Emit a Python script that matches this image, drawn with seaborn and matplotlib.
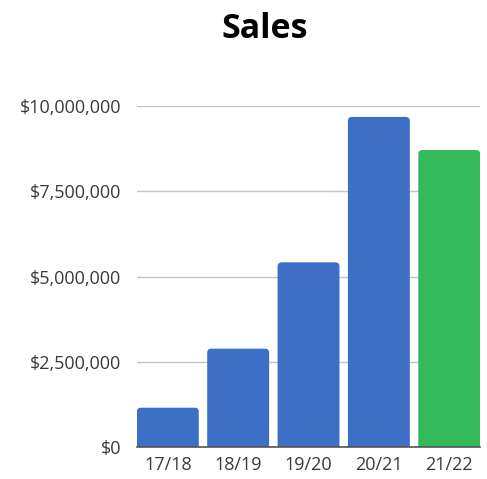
import numpy as np
import pandas as pd
import seaborn as sns
from matplotlib import pyplot as plt
from matplotlib.patches import FancyBboxPatch
from matplotlib.ticker import FuncFormatter

years = ["17/18", "18/19", "19/20", "20/21", "21/22"]
sales = [1160000, 2890000, 5420000, 9680000, 8710000]
colors = ["#3d6fc4", "#3d6fc4", "#3d6fc4", "#3d6fc4", "#33ba5a"]

sns.set_style("white")
plt.rcParams['font.family'] = ['Open Sans', 'DejaVu Sans']

df = pd.DataFrame({"year": years, "sales": sales})

fig = plt.figure(figsize=(4.87, 4.79), dpi=100)
ax = fig.add_axes([0.281, 0.0662, 0.705, 0.7125])

sns.barplot(data=df, x="year", y="sales", hue="year", palette=colors,
            legend=False, width=0.88, saturation=1, ax=ax, zorder=3)

# swap square bars for ones with slightly rounded tops
r = 0.06
aspect = 2.0e6
for p in list(ax.patches):
    x0, y0 = p.get_x(), p.get_y()
    w, h = p.get_width(), p.get_height()
    fb = FancyBboxPatch((x0, y0 - r * aspect), w, h + r * aspect,
                        boxstyle=f"round,pad=0,rounding_size={r}",
                        mutation_aspect=aspect, facecolor=p.get_facecolor(),
                        edgecolor="none", zorder=3)
    p.remove()
    ax.add_patch(fb)

ax.set_ylim(0, 10000000)
ax.set_xlim(-0.44, 4.44)
ax.set_yticks([0, 2500000, 5000000, 7500000, 10000000])
ax.yaxis.set_major_formatter(FuncFormatter(lambda v, p: f"${v:,.0f}"))
ax.grid(axis="y", color="#c4c4c4", linewidth=1, zorder=0)
ax.set_axisbelow(True)
ax.set_xlabel("")
ax.set_ylabel("")
for s in ["top", "right", "left"]:
    ax.spines[s].set_visible(False)
ax.spines["bottom"].set_color("#555555")
ax.spines["bottom"].set_linewidth(1.2)
ax.spines["bottom"].set_zorder(4)
ax.tick_params(axis="both", length=0, labelsize=13, colors="#3a3a3a")
ax.tick_params(axis="y", pad=11)
ax.tick_params(axis="x", pad=6)

fig.text(0.544, 0.939, "Sales", ha="center", va="center",
         fontsize=24.5, fontweight="bold", color="black")

plt.savefig("out.png", dpi=100)
